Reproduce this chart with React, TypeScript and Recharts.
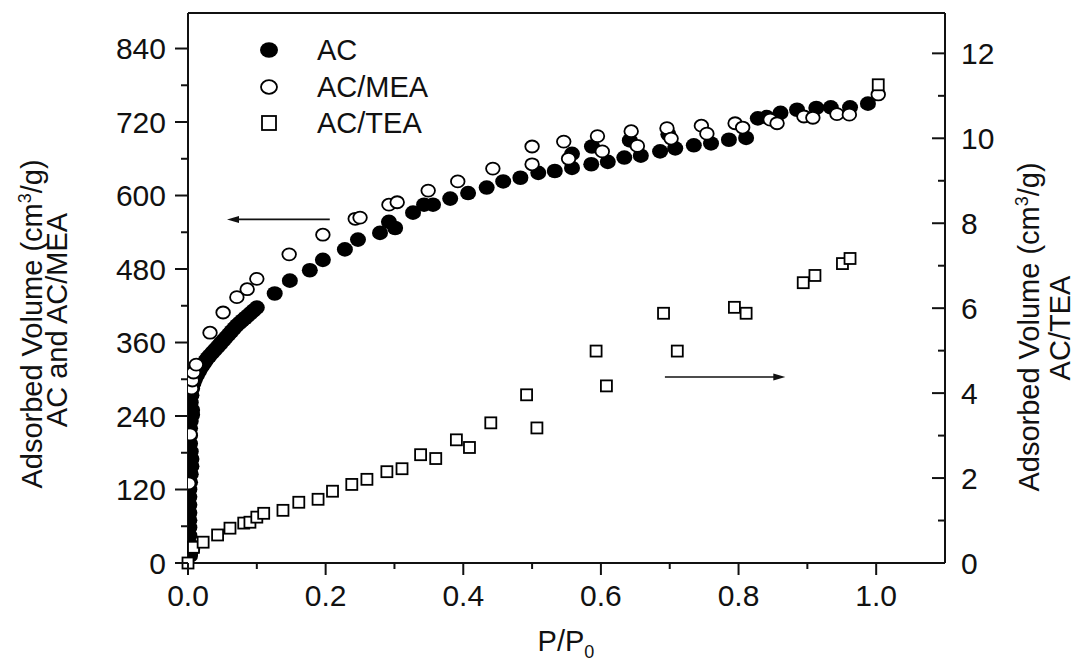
import React from 'react';
import { ScatterChart, Scatter, XAxis, YAxis, ReferenceLine, ReferenceDot, Legend } from 'recharts';

const FONT = '"Liberation Sans", Arial, Helvetica, sans-serif';
const INK = '#111';

// ---- data (P/P0, adsorbed volume) ----
const acP = [0.003,0.006,0.002,0.002,0.002,0.002,0.002,0.002,0.002,0.002,0.003,0.004,0.005,0.005,0.004,0.003,0.003,0.003,0.004,0.006,0.006,0.004,0.005,0.006,0.008,
  0.010,0.013,0.016,0.019,0.022,0.025,0.028,0.031,0.035,0.039,0.043,0.047,0.051,0.055,0.059,0.063,0.067,0.071,0.075,0.079,0.083,0.087,0.091,0.095,0.100,
  0.126,0.148,0.177,0.196,0.228,0.247,0.279,0.292,0.301,0.327,0.343,0.356,0.381,0.407,0.434,0.458,0.483,0.509,0.533,0.558,0.558,0.586,0.587,0.610,0.634,0.642,0.658,0.686,0.698,0.708,0.735,0.760,0.786,0.811,0.828,0.841,0.861,0.885,0.913,0.934,0.962,0.988];
const acV = [12,22,32,45,58,70,82,95,108,120,132,145,158,170,182,195,208,220,232,242,250,262,274,285,294,
  300,307,313,319,324,329,334,338,343,348,353,358,363,368,373,378,383,388,392,396,400,404,408,412,417,
  440,461,478,495,512,528,539,557,547,572,585,585,595,604,613,623,629,637,640,645,668,651,680,655,662,690,665,672,700,677,682,685,691,694,726,728,735,740,743,744,744,750];

const meaP = [0.001,0.003,0.005,0.006,0.008,0.012,0.032,0.051,0.071,0.086,0.100,0.147,0.196,0.243,0.250,0.292,0.304,0.349,0.392,0.443,0.500,0.500,0.546,0.553,0.595,0.602,0.644,0.653,0.696,0.702,0.746,0.754,0.795,0.806,0.846,0.856,0.895,0.908,0.943,0.961,1.003];
const meaV = [130,210,285,298,311,324,376,409,434,447,464,504,536,562,564,585,589,608,623,644,680,651,688,660,697,672,705,681,710,693,714,701,718,711,724,718,729,727,733,732,765];

const teaP = [0.000,0.008,0.022,0.043,0.061,0.081,0.090,0.100,0.110,0.138,0.161,0.189,0.210,0.238,0.260,0.289,0.311,0.338,0.360,0.390,0.409,0.440,0.492,0.507,0.593,0.608,0.691,0.711,0.794,0.811,0.894,0.911,0.951,0.962,1.003];
const teaV = [0.00,0.37,0.49,0.66,0.82,0.94,0.96,1.08,1.17,1.24,1.43,1.50,1.69,1.85,1.97,2.15,2.22,2.55,2.46,2.90,2.72,3.30,3.96,3.18,4.99,4.17,5.88,4.99,6.02,5.88,6.60,6.77,7.05,7.17,11.26];

const seriesNames = ['AC', 'AC/MEA', 'AC/TEA'];
const xTicks = [0, 0.1, 0.2, 0.3, 0.4, 0.5, 0.6, 0.7, 0.8, 0.9, 1.0];
const leftTicks = [0, 60, 120, 180, 240, 300, 360, 420, 480, 540, 600, 660, 720, 780, 840];
const rightTicks = [0, 1, 2, 3, 4, 5, 6, 7, 8, 9, 10, 11, 12];
const xDomain = [0, 1.1];
const leftDomain = [0, 898];
const rightDomain = [0, 12.95];
const leftArrow = { from: 0.206, to: 0.0567, y: 561 };
const rightArrow = { from: 0.693, to: 0.868, y: 4.38 };

const zip = (p: number[], v: number[]) => p.map((x, i) => ({ x, y: v[i] }));
const acData = zip(acP, acV);
const meaData = zip(meaP, meaV);
const teaData = zip(teaP, teaV);

const W = 1078;
const H = 666;

const FilledDot = (p: any) => <ellipse cx={p.cx} cy={p.cy} rx={8} ry={7.3} fill="#000" />;
const OpenDot = (p: any) => (
  <ellipse cx={p.cx} cy={p.cy} rx={6.8} ry={6} fill="#fff" stroke="#000" strokeWidth={1.8} />
);
const SquareDot = (p: any) => (
  <rect x={p.cx - 5.5} y={p.cy - 5.5} width={11} height={11} fill="#fff" stroke="#000" strokeWidth={1.8} />
);

const LeftTick = (props: any) => {
  const { x, y, payload } = props;
  const v = payload.value;
  const major = v % 120 === 0;
  return (
    <g>
      <line x1={x} x2={x - (major ? 13 : 7)} y1={y} y2={y} stroke={INK} strokeWidth={2} />
      {major && (
        <text x={x - 22} y={y} dy={10.5} textAnchor="end" fontSize={30} fontFamily={FONT} fill={INK}>
          {v}
        </text>
      )}
    </g>
  );
};

const RightTick = (props: any) => {
  const { x, y, payload } = props;
  const v = payload.value;
  const major = v % 2 === 0;
  return (
    <g>
      <line x1={x} x2={x - (major ? 13 : 7)} y1={y} y2={y} stroke={INK} strokeWidth={2} />
      {major && (
        <text x={x + 16} y={y} dy={10.5} textAnchor="start" fontSize={30} fontFamily={FONT} fill={INK}>
          {v}
        </text>
      )}
    </g>
  );
};

const BottomTick = (props: any) => {
  const { x, y, payload } = props;
  const v = payload.value;
  const major = Math.round(v * 10) % 2 === 0;
  return (
    <g>
      <line x1={x} x2={x} y1={y} y2={y + (major ? 12 : 6)} stroke={INK} strokeWidth={2} />
      {major && (
        <text x={x} y={y + 43} textAnchor="middle" fontSize={30} fontFamily={FONT} fill={INK}>
          {v.toFixed(1)}
        </text>
      )}
    </g>
  );
};

const LeftTitle = () => (
  <g fontFamily={FONT} fontSize={29} fill={INK}>
    <text x={42} y={324} transform="rotate(-90, 42, 324)" textAnchor="middle">
      Adsorbed Volume (cm<tspan dy={-11} fontSize={18}>3</tspan><tspan dy={11}>/g)</tspan>
    </text>
    <text x={67} y={320} transform="rotate(-90, 67, 320)" textAnchor="middle">
      AC and AC/MEA
    </text>
  </g>
);

const RightTitle = () => (
  <g fontFamily={FONT} fontSize={29} fill={INK}>
    <text x={1039} y={327} transform="rotate(-90, 1039, 327)" textAnchor="middle">
      Adsorbed Volume (cm<tspan dy={-11} fontSize={18}>3</tspan><tspan dy={11}>/g)</tspan>
    </text>
    <text x={1070} y={328} transform="rotate(-90, 1070, 328)" textAnchor="middle">
      AC/TEA
    </text>
  </g>
);

const BottomTitle = () => (
  <text x={566} y={651} textAnchor="middle" fontFamily={FONT} fontSize={29} fill={INK}>
    P/P<tspan dy={7} fontSize={18}>0</tspan>
  </text>
);

const legendMarker = (i: number) => {
  if (i === 0) return <ellipse cx={11} cy={11} rx={9} ry={7.8} fill="#000" />;
  if (i === 1) return <ellipse cx={11} cy={11} rx={8} ry={6.8} fill="#fff" stroke="#000" strokeWidth={1.8} />;
  return <rect x={4} y={4} width={14} height={14} fill="#fff" stroke="#000" strokeWidth={1.8} />;
};

const LegendBox = () => (
  <div style={{ fontFamily: FONT, fontSize: 29, color: INK }}>
    {seriesNames.map((n, i) => (
      <div key={n} style={{ display: 'flex', alignItems: 'center', height: 36.5 }}>
        <svg width={22} height={22} style={{ display: 'block' }}>
          {legendMarker(i)}
        </svg>
        <span style={{ marginLeft: 37, lineHeight: '36.5px', whiteSpace: 'nowrap' }}>{n}</span>
      </div>
    ))}
  </div>
);

const arrowLeftHead = (p: any) => (
  <polygon points={`${p.cx},${p.cy} ${p.cx + 12},${p.cy - 3.5} ${p.cx + 12},${p.cy + 3.5}`} fill={INK} />
);
const arrowRightHead = (p: any) => (
  <polygon points={`${p.cx},${p.cy} ${p.cx - 12},${p.cy - 3.5} ${p.cx - 12},${p.cy + 3.5}`} fill={INK} />
);

export default function App() {
  return (
    <div style={{ position: 'absolute', left: 0, top: 0, width: W, height: H, background: '#fff' }}>
      <ScatterChart width={W} height={H} margin={{ top: 0, right: 0, bottom: 0, left: 0 }}>
        <XAxis
          xAxisId="main"
          dataKey="x"
          type="number"
          domain={xDomain}
          allowDataOverflow
          ticks={xTicks}
          interval={0}
          height={103}
          tickSize={0}
          tickMargin={0}
          tickLine={false}
          axisLine={{ stroke: INK, strokeWidth: 2 }}
          tick={BottomTick}
          label={BottomTitle}
        />
        <XAxis xAxisId="sq" dataKey="x" type="number" domain={xDomain} hide />
        <XAxis
          xAxisId="top"
          orientation="top"
          dataKey="x"
          type="number"
          domain={xDomain}
          height={13}
          tick={false}
          tickLine={false}
          axisLine={{ stroke: INK, strokeWidth: 2 }}
        />
        <YAxis
          yAxisId="left"
          dataKey="y"
          type="number"
          domain={leftDomain}
          ticks={leftTicks}
          interval={0}
          width={188}
          tickSize={0}
          tickMargin={0}
          tickLine={false}
          axisLine={{ stroke: INK, strokeWidth: 2 }}
          tick={LeftTick}
          label={LeftTitle}
        />
        <YAxis
          yAxisId="right"
          orientation="right"
          dataKey="y"
          type="number"
          domain={rightDomain}
          ticks={rightTicks}
          interval={0}
          width={133}
          tickSize={0}
          tickMargin={0}
          tickLine={false}
          axisLine={{ stroke: INK, strokeWidth: 2 }}
          tick={RightTick}
          label={RightTitle}
        />
        <Legend
          layout="horizontal"
          verticalAlign="middle"
          align="center"
          content={LegendBox}
          wrapperStyle={{ left: 258, top: 32, width: 'auto', height: 'auto' }}
        />
        <Scatter name={seriesNames[0]} data={acData} xAxisId="main" yAxisId="left" shape={FilledDot} isAnimationActive={false} />
        <Scatter name={seriesNames[1]} data={meaData} xAxisId="main" yAxisId="left" shape={OpenDot} isAnimationActive={false} />
        <Scatter name={seriesNames[2]} data={teaData} xAxisId="sq" yAxisId="right" shape={SquareDot} isAnimationActive={false} />
        <ReferenceLine
          xAxisId="main"
          yAxisId="left"
          segment={[{ x: leftArrow.from, y: leftArrow.y }, { x: leftArrow.to + 0.008, y: leftArrow.y }]}
          stroke={INK}
          strokeWidth={1.6}
        />
        <ReferenceDot xAxisId="main" yAxisId="left" x={leftArrow.to} y={leftArrow.y} shape={arrowLeftHead} />
        <ReferenceLine
          xAxisId="sq"
          yAxisId="right"
          segment={[{ x: rightArrow.from, y: rightArrow.y }, { x: rightArrow.to - 0.008, y: rightArrow.y }]}
          stroke={INK}
          strokeWidth={1.6}
        />
        <ReferenceDot xAxisId="sq" yAxisId="right" x={rightArrow.to} y={rightArrow.y} shape={arrowRightHead} />
      </ScatterChart>
    </div>
  );
}
